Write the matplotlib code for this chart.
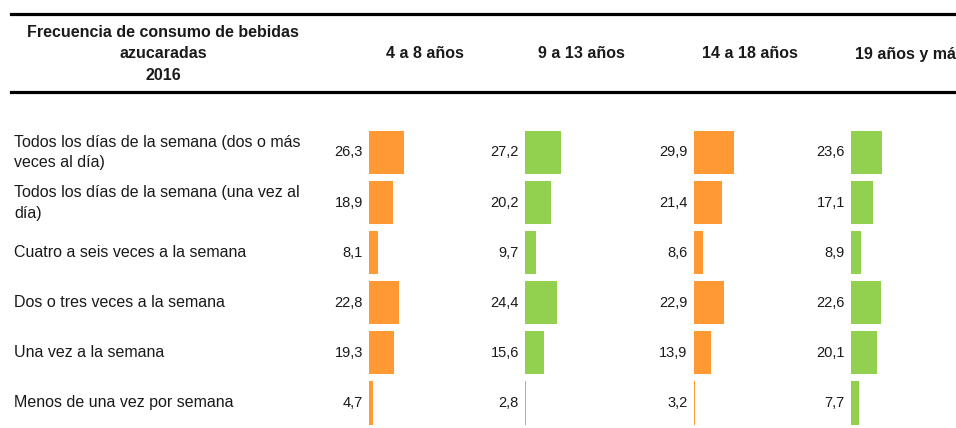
import matplotlib
matplotlib.use("Agg")
import matplotlib.pyplot as plt
from matplotlib.lines import Line2D
from matplotlib.transforms import blended_transform_factory

plt.rcParams['font.family'] = ['Liberation Sans', 'DejaVu Sans']

title = "Frecuencia de consumo de bebidas\nazucaradas\n2016"
groups = ["4 a 8 años", "9 a 13 años", "14 a 18 años", "19 años y más"]
categories = [
    "Todos los días de la semana (dos o más\nveces al día)",
    "Todos los días de la semana (una vez al\ndía)",
    "Cuatro a seis veces a la semana",
    "Dos o tres veces a la semana",
    "Una vez a la semana",
    "Menos de una vez por semana",
]
v_4_8 = [26.3, 18.9, 8.1, 22.8, 19.3, 4.7]
v_9_13 = [27.2, 20.2, 9.7, 24.4, 15.6, 2.8]
v_14_18 = [29.9, 21.4, 8.6, 22.9, 13.9, 3.2]
v_19 = [23.6, 17.1, 8.9, 22.6, 20.1, 7.7]
series = [v_4_8, v_9_13, v_14_18, v_19]
labels = [[f"{v:.1f}".replace(".", ",") for v in s] for s in series]

orange = "#FF9933"
green = "#92D050"
colors = [orange, green, orange, green]
txt = "#1a1a1a"

W, H = 956, 428
fig = plt.figure(figsize=(W / 100, H / 100), dpi=100)

def fx(px):
    return px / W

def fy(py):
    return 1 - py / H

# header rules
for yy in (14, 92):
    fig.add_artist(Line2D([fx(11), fx(W)], [fy(yy), fy(yy)],
                          transform=fig.transFigure, color="black", lw=2.3))

fig.text(fx(163), fy(54), title, ha="center", va="center", fontsize=11.5,
         fontweight="bold", linespacing=1.55, color=txt)

col_left = [369, 525, 694, 851]
head_x = [425, 581, 750, 910]
base = 2.2
px_per_unit = 1.452
ax_w = 100
top_px = 127
pitch = 50.1
first_c = 152.5
y_top = -(first_c - top_px) / pitch
y_bot = y_top + (H - top_px) / pitch

axes = []
for i, (vals, lab, col) in enumerate(zip(series, labels, colors)):
    ax = fig.add_axes([fx(col_left[i]), 0, fx(ax_w), fy(top_px)])
    ax.set_xlim(base, base + ax_w / px_per_unit)
    ax.set_ylim(y_bot, y_top)
    y = list(range(len(vals)))
    ax.barh(y, [v - base for v in vals], left=base, height=0.86, color=col)
    for yi, v, t in zip(y, vals, lab):
        ax.annotate(t, (base, yi), xytext=(-4.5, 0), textcoords="offset points",
                    ha="right", va="center", fontsize=10.5, color=txt)
    ax.axis("off")
    axes.append(ax)
    fig.text(fx(head_x[i]), fy(54), groups[i], ha="center", va="center",
             fontsize=11.5, fontweight="bold", color=txt)

tr = blended_transform_factory(fig.transFigure, axes[0].transData)
for yi, c in enumerate(categories):
    fig.text(fx(14), yi, c, transform=tr, ha="left", va="center", fontsize=11.5,
             linespacing=1.5, color=txt)

fig.savefig("out.png", dpi=100)
